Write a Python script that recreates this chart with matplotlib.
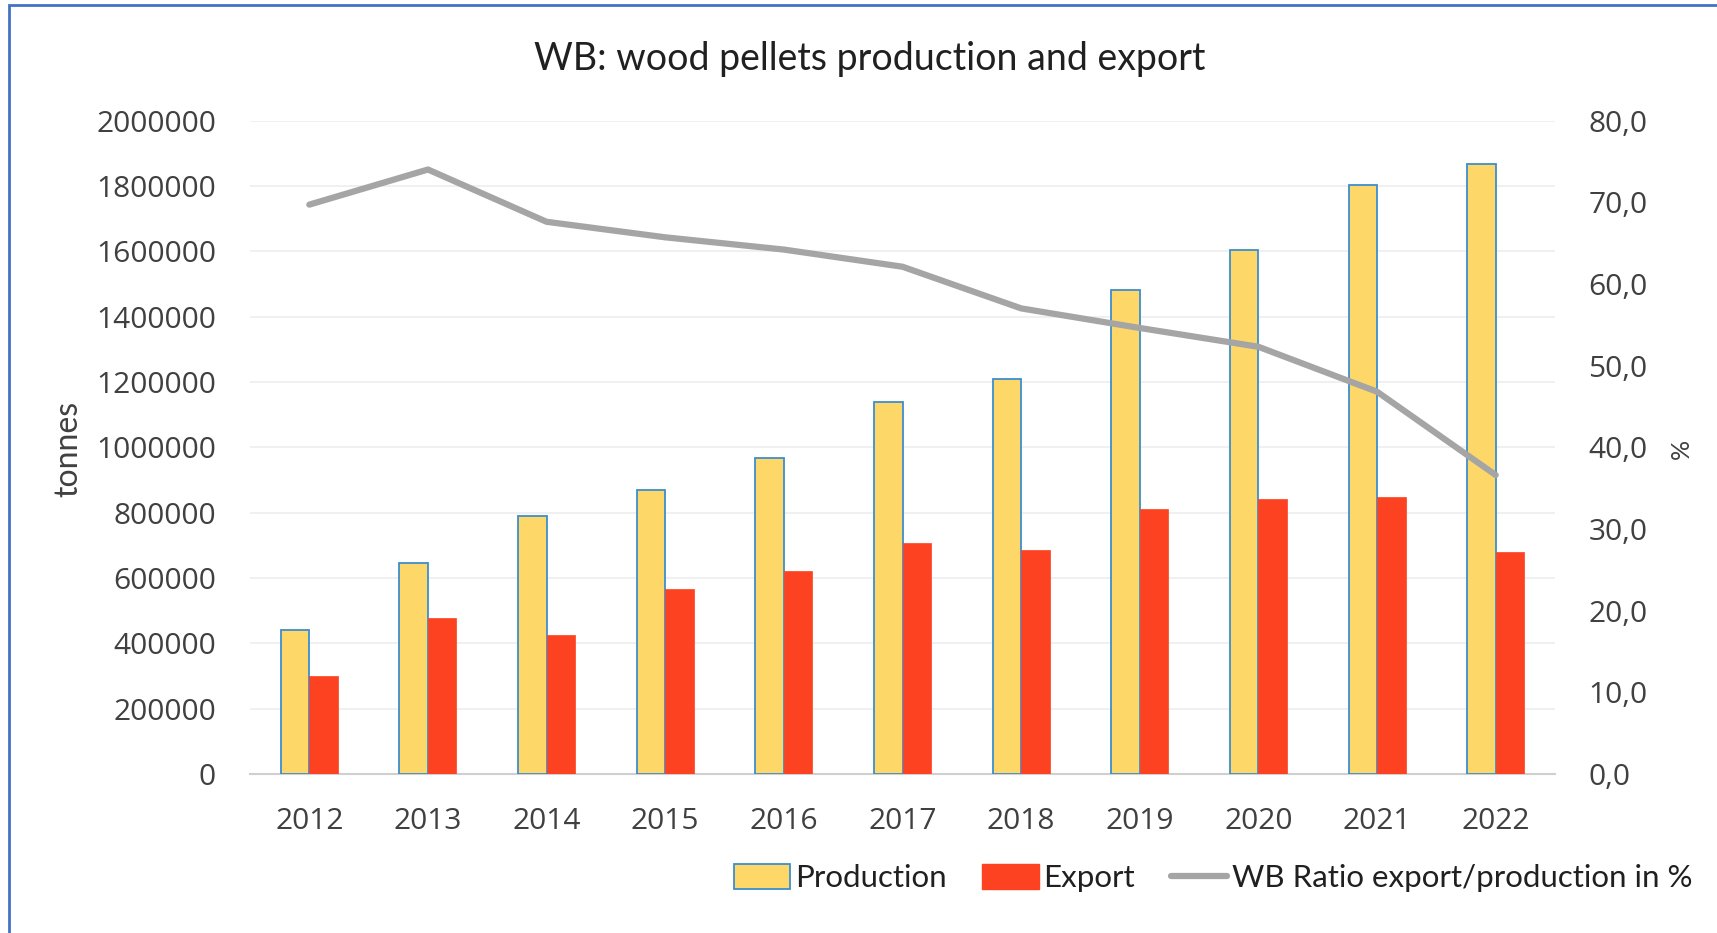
import matplotlib
matplotlib.use("Agg")
import matplotlib.pyplot as plt
import numpy as np
from matplotlib.patches import Rectangle, Patch
from matplotlib.lines import Line2D
from matplotlib.ticker import FuncFormatter

years = ["2012", "2013", "2014", "2015", "2016", "2017", "2018", "2019", "2020", "2021", "2022"]
production = [440000, 645000, 790000, 868000, 968000, 1140000, 1210000, 1481000, 1605000, 1802000, 1866000]
export = [301000, 476000, 425000, 566000, 620000, 707000, 687000, 811000, 841000, 848000, 680000]
ratio = [69.7, 74.0, 67.6, 65.7, 64.2, 62.1, 57.0, 54.6, 52.3, 46.8, 36.6]

left_ticks = list(range(0, 2000001, 200000))
right_ticks = list(range(0, 81, 10))

fig = plt.figure(figsize=(17.17, 9.33), dpi=100)
ax = fig.add_axes([250/1717, 1-774/933, (1555-250)/1717, (774-120.5)/933])

x = np.arange(len(years))
w = 0.24
ax.bar(x - w/2, production, width=w, color="#FDD868", edgecolor="#3C8DD0", linewidth=1.3, zorder=3)
ax.bar(x + w/2, export, width=w, color="#FC4220", edgecolor="#FC4220", linewidth=0.5, zorder=3)

ax.set_xlim(-0.5, len(years) - 0.5)
ax.set_ylim(0, 2000000)
ax.set_yticks(left_ticks)
ax.yaxis.set_major_formatter(FuncFormatter(lambda v, p: f"{int(v)}"))
ax.set_xticks(x)
ax.set_xticklabels(years)
ax.grid(axis="y", color="#EDEDED", linewidth=1.2, zorder=0)
for s in ["top", "right", "left"]:
    ax.spines[s].set_visible(False)
ax.spines["bottom"].set_color("#D0D0D0")
ax.spines["bottom"].set_linewidth(1.5)
ax.tick_params(axis="both", length=0, labelsize=21.5, labelcolor="#404040")
ax.tick_params(axis="y", pad=24.5)
ax.tick_params(axis="x", pad=24)
for lab in ax.get_xticklabels() + ax.get_yticklabels():
    lab.set_fontfamily("Open Sans")

ax2 = ax.twinx()
ax2.plot(x, ratio, color="#A5A5A5", linewidth=4.5, solid_capstyle="round", zorder=4)
ax2.set_ylim(0, 80)
ax2.set_yticks(right_ticks)
ax2.yaxis.set_major_formatter(FuncFormatter(lambda v, p: f"{v:.1f}".replace(".", ",")))
for s in ["top", "right", "left", "bottom"]:
    ax2.spines[s].set_visible(False)
ax2.tick_params(axis="y", length=0, labelsize=21.5, labelcolor="#404040", pad=24)
for lab in ax2.get_yticklabels():
    lab.set_fontfamily("Open Sans")

fig.text(68/1717, 1-449/933, "tonnes", rotation=90, ha="center", va="center",
         fontsize=23, color="#404040", family="Lato")
fig.text(1681/1717, 1-449/933, "%", rotation=90, ha="center", va="center",
         fontsize=18, color="#404040", family="Lato")

fig.text(870/1717, 1-59/933, "WB: wood pellets production and export", ha="center", va="center",
         fontsize=27, color="#202020", family="Lato")

handles = [
    Patch(facecolor="#FDD868", edgecolor="#3C8DD0", linewidth=1.3),
    Patch(facecolor="#FC4220", edgecolor="#FC4220"),
    Line2D([0], [0], color="#A5A5A5", linewidth=4.5, solid_capstyle="round"),
]
labels = ["Production", "Export", "WB Ratio export/production in %"]
leg = fig.legend(handles, labels, loc="center", bbox_to_anchor=(1213/1717, 1-878/933), ncol=3,
                 frameon=False, prop={"family": "Lato", "size": 22.5}, handlelength=1.8,
                 handleheight=0.85, handletextpad=0.15, columnspacing=1.15)
for t in leg.get_texts():
    t.set_color("#202020")

fig.patches.append(Rectangle((8.5/1717, -0.2), 1.2, 1.2 - 5.5/933, transform=fig.transFigure,
                             fill=False, edgecolor="#4472C4", linewidth=2.0))

fig.savefig("out.png", dpi=100)
